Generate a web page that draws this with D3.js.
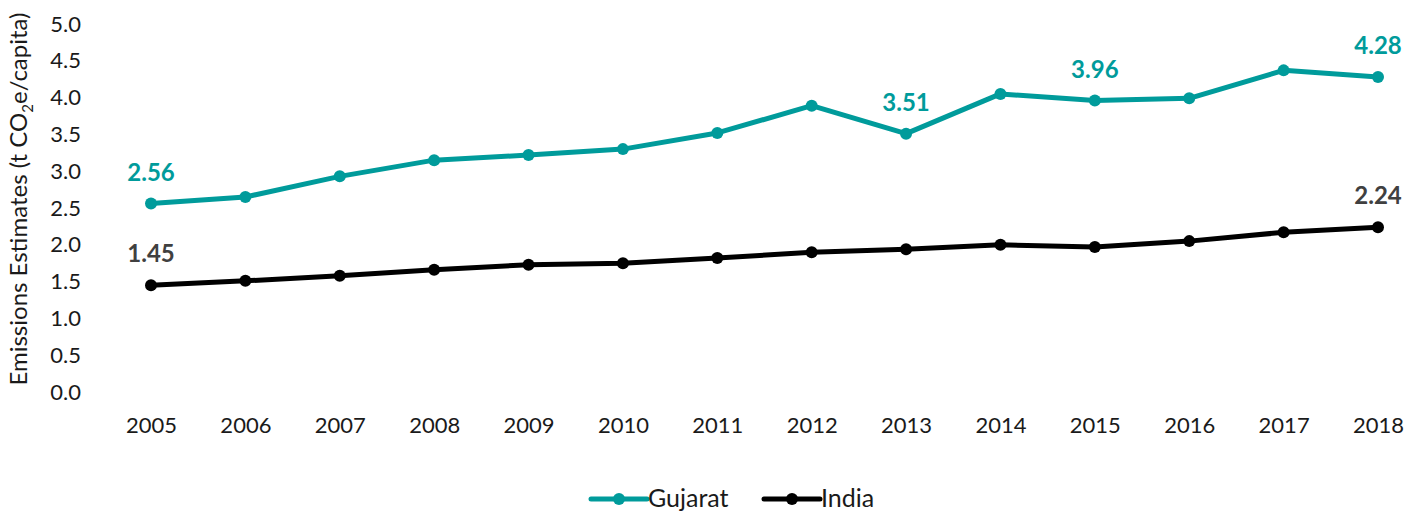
<!DOCTYPE html>
<html>
<head>
<meta charset="utf-8">
<script src="https://cdn.jsdelivr.net/npm/d3@7"></script>
<style>
  html, body { margin: 0; padding: 0; background: #fff; }
  svg { display: block; font-family: Lato, "Open Sans", sans-serif; }
</style>
</head>
<body>
<svg id="chart" width="1424" height="515"></svg>
<script>
const years = [2005, 2006, 2007, 2008, 2009, 2010, 2011, 2012, 2013, 2014, 2015, 2016, 2017, 2018];
const gujarat = [2.56, 2.65, 2.93, 3.15, 3.22, 3.30, 3.52, 3.89, 3.51, 4.05, 3.96, 3.99, 4.37, 4.28];
const india = [1.45, 1.51, 1.58, 1.66, 1.73, 1.75, 1.82, 1.90, 1.94, 2.00, 1.97, 2.05, 2.17, 2.24];
const yTicks = [0, 0.5, 1.0, 1.5, 2.0, 2.5, 3.0, 3.5, 4.0, 4.5, 5.0];
const gujaratLabelled = [2005, 2013, 2015, 2018];
const indiaLabelled = [2005, 2018];

const teal = "#009B9B";
const black = "#000000";
const labelGrey = "#404040";

const svg = d3.select("#chart");

const x = d3.scalePoint().domain(years).range([151, 1378]);
const y = d3.scaleLinear().domain([0, 5]).range([392, 24]);

// y axis: labels only
const yAxis = d3.axisLeft(y).tickValues(yTicks).tickFormat(d3.format(".1f")).tickSize(0).tickPadding(0);
const gy = svg.append("g").attr("transform", "translate(81,0)").call(yAxis);
gy.select(".domain").remove();
gy.selectAll("text").attr("font-size", 22).attr("fill", "#1a1a1a").attr("font-family", "Lato, sans-serif");

// x axis: labels only
const xAxis = d3.axisBottom(x).tickSize(0).tickPadding(0).tickFormat(d3.format("d"));
const gx = svg.append("g").attr("transform", "translate(0,417)").call(xAxis);
gx.select(".domain").remove();
gx.selectAll("text").attr("font-size", 22).attr("fill", "#1a1a1a").attr("font-family", "Lato, sans-serif");

// axis title with subscript
const title = svg.append("text")
  .attr("transform", "translate(27,199) rotate(-90)")
  .attr("text-anchor", "middle")
  .attr("font-size", 24)
  .attr("fill", "#1a1a1a");
title.append("tspan").text("Emissions Estimates (t CO");
title.append("tspan").attr("font-size", 15).attr("dy", 6).text("2");
title.append("tspan").attr("dy", -6).text("e/capita)");

const line = d3.line().x((d, i) => x(years[i])).y(d => y(d));

function drawSeries(values, color, labelled, labelColor) {
  svg.append("path")
    .datum(values)
    .attr("fill", "none")
    .attr("stroke", color)
    .attr("stroke-width", 5)
    .attr("stroke-linejoin", "round")
    .attr("d", line);
  svg.append("g").selectAll("circle")
    .data(values)
    .join("circle")
    .attr("cx", (d, i) => x(years[i]))
    .attr("cy", d => y(d))
    .attr("r", 6)
    .attr("fill", color);
  svg.append("g").selectAll("text")
    .data(values.map((v, i) => ({ year: years[i], v })).filter(d => labelled.includes(d.year)))
    .join("text")
    .attr("x", d => x(d.year))
    .attr("y", d => y(d.v) - 23)
    .attr("text-anchor", "middle")
    .attr("font-size", 24)
    .attr("font-weight", "bold")
    .attr("fill", labelColor)
    .text(d => d.v.toFixed(2));
}

drawSeries(gujarat, teal, gujaratLabelled, teal);
drawSeries(india, black, indiaLabelled, labelGrey);

// legend
const legendItems = [
  { name: "Gujarat", color: teal, x: 591 },
  { name: "India", color: black, x: 764 }
];
const lg = svg.append("g");
legendItems.forEach(item => {
  const g = lg.append("g").attr("transform", `translate(${item.x},499)`);
  g.append("line").attr("x1", 0).attr("x2", 56).attr("y1", 0).attr("y2", 0)
    .attr("stroke", item.color).attr("stroke-width", 5).attr("stroke-linecap", "round");
  g.append("circle").attr("cx", 28).attr("cy", 0).attr("r", 6).attr("fill", item.color);
  g.append("text").attr("x", 57).attr("y", 8).attr("font-size", 25).attr("fill", "#1a1a1a").text(item.name);
});
</script>
</body>
</html>
